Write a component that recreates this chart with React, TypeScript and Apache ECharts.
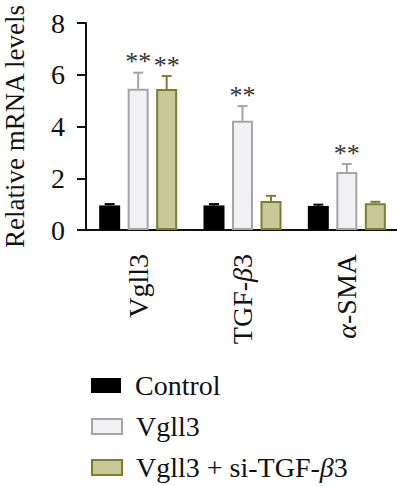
import React, { useEffect, useRef } from "react";
import * as echarts from "echarts";

const categories = ["Vgll3", "TGF-β3", "α-SMA"];
const seriesNames = ["Control", "Vgll3", "Vgll3 + si-TGF-β3"];
const controlValues = [0.95, 0.95, 0.93];
const controlErrors = [0.05, 0.05, 0.05];
const vgll3Values = [5.46, 4.22, 2.24];
const vgll3Errors = [0.62, 0.57, 0.31];
const siValues = [5.45, 1.12, 1.03];
const siErrors = [0.5, 0.2, 0.06];
const vgll3Stars = ["**", "**", "**"];
const siStars = ["**", "", ""];

const FONT = "'Liberation Serif', 'Times New Roman', serif";
const fills = ["#000000", "#f1f1f3", "#c9c898"];
const borders = ["#000000", "#a5a5a5", "#7e7d30"];
const BAR_W = 21;
const BAR_GAP = 7.5;
const FS = 28;

function italicize(s: string) {
  return s.replace("β", "{i|β}").replace("α", "{i|α}");
}

export default function App() {
  const ref = useRef<HTMLDivElement>(null);
  useEffect(() => {
    document.body.style.margin = "0";
    const chart = echarts.init(ref.current!, null, { renderer: "svg" });
    const values = [controlValues, vgll3Values, siValues];
    const errors = [controlErrors, vgll3Errors, siErrors];
    const stars = [["", "", ""], vgll3Stars, siStars];

    const barSeries = seriesNames.map((name, i) => ({
      name,
      type: "bar",
      data: values[i],
      barWidth: BAR_W,
      barGap: (BAR_GAP / BAR_W) * 100 + "%",
      itemStyle: {
        color: fills[i],
        borderColor: borders[i],
        borderWidth: i === 0 ? 0 : 2,
      },
      z: 2,
    }));

    const errSeries = seriesNames.map((name, i) => ({
      name: name + "-err",
      type: "custom",
      z: 1,
      data: values[i].map((v, k) => [k, v, v + errors[i][k]]),
      renderItem: (params: any, api: any) => {
        const k = api.value(0);
        const base = api.coord([k, api.value(1)]);
        const top = api.coord([k, api.value(2)]);
        const x = base[0] + (i - 1) * (BAR_W + BAR_GAP);
        const color = borders[i];
        const children: any[] = [
          {
            type: "line",
            shape: { x1: x, y1: base[1], x2: x, y2: top[1] },
            style: { stroke: color, lineWidth: 2 },
          },
          {
            type: "line",
            shape: { x1: x - 5, y1: top[1], x2: x + 5, y2: top[1] },
            style: { stroke: color, lineWidth: 2 },
          },
        ];
        const st = stars[i][k];
        if (st) {
          children.push({
            type: "text",
            x,
            y: top[1] + 2,
            style: {
              text: st,
              fontFamily: FONT,
              fontSize: 26,
              fill: "#333",
              align: "center",
              verticalAlign: "bottom",
            },
          });
        }
        return { type: "group", children };
      },
    }));

    const rowCenters = [385.5, 426.5, 467.5];
    const legends = seriesNames.map((name, i) => ({
      data: [name],
      orient: "vertical",
      left: 86,
      top: rowCenters[i] - FS / 2 - 5,
      itemWidth: 30,
      itemHeight: 15,
      icon: "rect",
      selectedMode: false,
      formatter: (n: string) => italicize(n),
      textStyle: {
        fontFamily: FONT,
        fontSize: FS,
        lineHeight: FS,
        color: "#111",
        padding: [0, 0, 0, 9],
        rich: { i: { fontFamily: FONT, fontSize: FS, lineHeight: FS, fontStyle: "italic", color: "#111" } },
      },
    }));

    chart.setOption({
      animation: false,
      textStyle: { fontFamily: FONT },
      grid: {
        left: 86,
        top: 23,
        height: 207,
        width: 313,
        containLabel: false,
        outerBoundsMode: "none",
      },
      legend: legends,
      xAxis: {
        type: "category",
        data: categories,
        axisLine: { lineStyle: { color: "#111", width: 2 } },
        axisTick: { alignWithLabel: true, length: 11, lineStyle: { color: "#111", width: 2 } },
        axisLabel: {
          rotate: 90,
          margin: 24,
          fontFamily: FONT,
          fontSize: FS,
          color: "#111",
          formatter: (v: string) => italicize(v),
          rich: { i: { fontFamily: FONT, fontSize: FS, fontStyle: "italic", color: "#111" } },
        },
      },
      yAxis: {
        type: "value",
        min: 0,
        max: 8,
        interval: 2,
        name: "Relative mRNA levels",
        nameLocation: "middle",
        nameGap: 58,
        nameTextStyle: { fontFamily: FONT, fontSize: 27, color: "#111" },
        axisLine: { show: true, lineStyle: { color: "#111", width: 2 } },
        axisTick: { show: true, length: 9, lineStyle: { color: "#111", width: 2 } },
        axisLabel: { margin: 21, fontFamily: FONT, fontSize: FS, color: "#111" },
        splitLine: { show: false },
      },
      series: [...barSeries, ...errSeries],
    });
    return () => chart.dispose();
  }, []);
  return <div ref={ref} style={{ width: 397, height: 486 }} />;
}
